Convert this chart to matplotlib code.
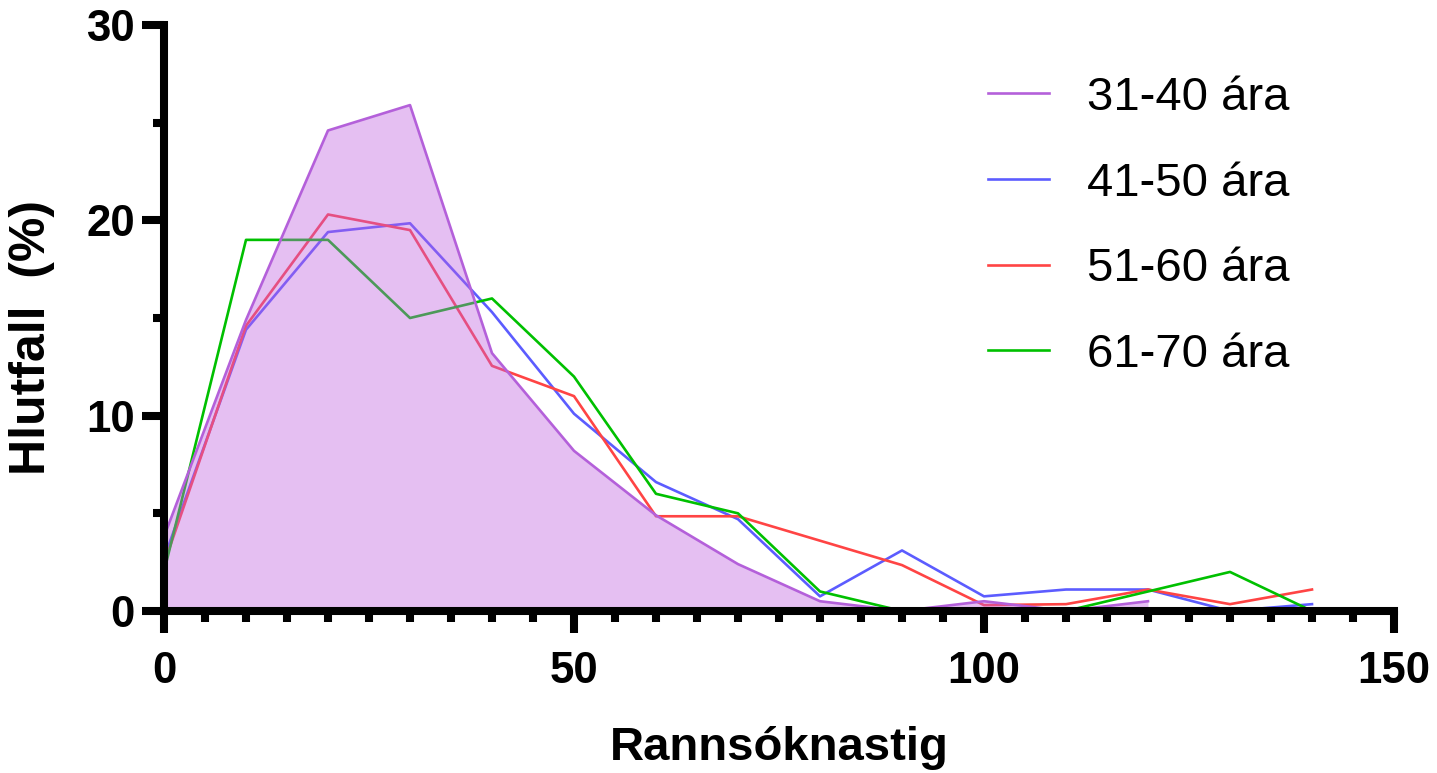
import matplotlib
matplotlib.use("Agg")
import matplotlib.pyplot as plt
from matplotlib.ticker import MultipleLocator

# values (percent per level)
levels = [0, 10, 20, 30, 40, 50, 60, 70, 80, 90, 100, 110, 120, 130, 140]
age_31_40 = [3.8, 14.9, 24.6, 25.9, 13.2, 8.2, 4.9, 2.4, 0.5, 0.0, 0.5, 0.0, 0.5]
age_41_50 = [2.7, 14.4, 19.4, 19.85, 15.3, 10.1, 6.6, 4.7, 0.75, 3.1, 0.75, 1.1, 1.1, 0.0, 0.35]
age_51_60 = [2.4, 14.6, 20.3, 19.5, 12.55, 11.0, 4.85, 4.85, 3.6, 2.35, 0.3, 0.35, 1.1, 0.35, 1.1]
age_61_70 = [2.0, 19.0, 19.0, 15.0, 16.0, 12.0, 6.0, 5.0, 1.0, 0.0, 0.0, 0.0, 1.0, 2.0, 0.0]

labels = ["31-40 ára", "41-50 ára", "51-60 ára", "61-70 ára"]
colors = ["#B460DA", "#5C5CFF", "#FF4444", "#00C000"]
fill_color = "#C060E0"

plt.rcParams["font.family"] = ["Liberation Sans", "DejaVu Sans"]

fig = plt.figure(figsize=(14.37, 7.73), dpi=100)
ax = fig.add_axes([164 / 1437, 1 - 611 / 773, 1230 / 1437, 586 / 773])

x_purple = levels[: len(age_31_40)]
lw = 1.9
ax.plot(levels, age_41_50, color=colors[1], lw=lw, label=labels[1], zorder=2)
ax.plot(levels, age_51_60, color=colors[2], lw=lw, label=labels[2], zorder=2)
ax.plot(levels, age_61_70, color=colors[3], lw=lw, label=labels[3], zorder=2)
ax.fill_between(x_purple, 0, age_31_40, color=fill_color, alpha=0.4, lw=0, zorder=3)
ax.plot(x_purple, age_31_40, color=colors[0], lw=lw, label=labels[0], zorder=4)

ax.set_xlim(0, 150)
ax.set_ylim(0, 30)
ax.xaxis.set_major_locator(MultipleLocator(50))
ax.xaxis.set_minor_locator(MultipleLocator(5))
ax.yaxis.set_major_locator(MultipleLocator(10))
ax.yaxis.set_minor_locator(MultipleLocator(5))

for side in ["top", "right"]:
    ax.spines[side].set_visible(False)
for side in ["left", "bottom"]:
    ax.spines[side].set_linewidth(5.8)
    ax.spines[side].set_zorder(5)

ax.tick_params(which="major", direction="out", length=16, width=5.8)
ax.tick_params(which="minor", direction="out", length=8, width=5.8)
ax.tick_params(axis="x", which="major", pad=13)
ax.tick_params(axis="y", which="major", pad=5)
for lab in ax.get_xticklabels() + ax.get_yticklabels():
    lab.set_fontsize(31.5)
    lab.set_fontweight("bold")

ax.set_xlabel("Rannsóknastig", fontsize=34, fontweight="bold", labelpad=24)
ax.set_ylabel("Hlutfall  (%)", fontsize=36, fontweight="bold")
ax.yaxis.set_label_coords(-0.0886, 0.466)

handles, labs = ax.get_legend_handles_labels()
order = [3, 0, 1, 2]
ax.legend(
    [handles[i] for i in order],
    [labs[i] for i in order],
    loc="upper left",
    bbox_to_anchor=(988 / 1437, 1 - 76 / 773),
    bbox_transform=fig.transFigure,
    frameon=False,
    fontsize=34,
    borderpad=0,
    borderaxespad=0,
    handlelength=1.3,
    handletextpad=0.8,
    labelspacing=0.88,
)

fig.savefig("out.png", dpi=100)
